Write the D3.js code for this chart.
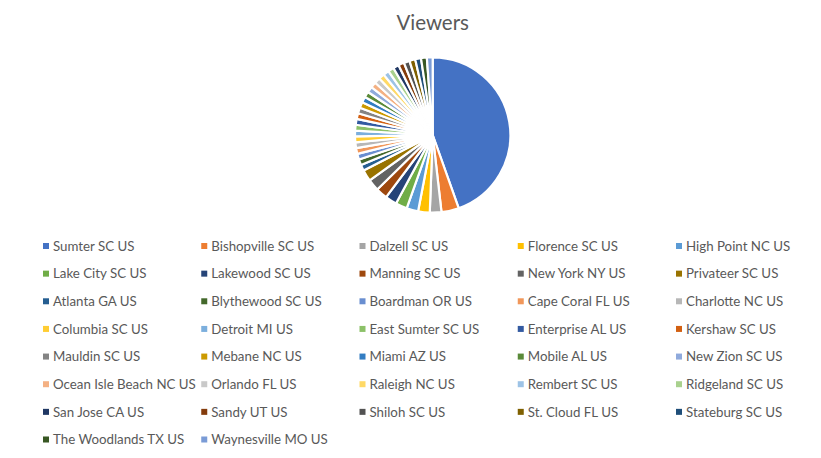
<!DOCTYPE html>
<html>
<head>
<meta charset="utf-8">
<script src="https://cdn.jsdelivr.net/npm/d3@7"></script>
<style>
  body { margin: 0; background: #fff; }
  svg { display: block; }
</style>
</head>
<body>
<div id="chart"></div>
<script>
// viewers per city
var cities = ["Sumter SC US", "Bishopville SC US", "Dalzell SC US", "Florence SC US", "High Point NC US",
  "Lake City SC US", "Lakewood SC US", "Manning SC US", "New York NY US", "Privateer SC US",
  "Atlanta GA US", "Blythewood SC US", "Boardman OR US", "Cape Coral FL US", "Charlotte NC US",
  "Columbia SC US", "Detroit MI US", "East Sumter SC US", "Enterprise AL US", "Kershaw SC US",
  "Mauldin SC US", "Mebane NC US", "Miami AZ US", "Mobile AL US", "New Zion SC US",
  "Ocean Isle Beach NC US", "Orlando FL US", "Raleigh NC US", "Rembert SC US", "Ridgeland SC US",
  "San Jose CA US", "Sandy UT US", "Shiloh SC US", "St. Cloud FL US", "Stateburg SC US",
  "The Woodlands TX US", "Waynesville MO US"];
var viewers = [37, 3, 2, 2, 2, 2, 2, 2, 2, 2,
  1, 1, 1, 1, 1, 1, 1, 1, 1, 1,
  1, 1, 1, 1, 1, 1, 1, 1, 1, 1,
  1, 1, 1, 1, 1, 1, 1];
var palette = ["#4472C4", "#ED7D31", "#A5A5A5", "#FFC000", "#5B9BD5", "#70AD47",
  "#264478", "#9E480E", "#636363", "#997300", "#255E91", "#43682B",
  "#698ED0", "#F1975A", "#B7B7B7", "#FFCD33", "#7CAFDD", "#8CC168",
  "#335AA1", "#D26012", "#848484", "#CC9A00", "#327DC2", "#5A8A39",
  "#8FAADC", "#F4B183", "#C9C9C9", "#FFD966", "#9DC3E6", "#A9D18E",
  "#203864", "#843C0C", "#525252", "#7F6000", "#1F4E79", "#385723",
  "#7A9BD6"];

var width = 821, height = 458;
var cx = 432.7, cy = 135, radius = 77.7;

var data = cities.map(function(c, i) { return { city: c, value: viewers[i], id: i }; });

var svg = d3.select("#chart").append("svg")
  .attr("width", width)
  .attr("height", height);

var color = d3.scaleOrdinal().domain(cities).range(palette);

svg.append("text")
  .attr("x", cx)
  .attr("y", 30)
  .attr("text-anchor", "middle")
  .style("font-family", "Lato, 'Open Sans', sans-serif")
  .style("font-size", "20.5px")
  .style("fill", "#595959")
  .text("Viewers");

var pie = d3.pie().sort(null).value(function(d) { return d.value; });
var arc = d3.arc().innerRadius(0).outerRadius(radius);

var g = svg.append("g").attr("transform", "translate(" + cx + "," + cy + ")");
g.selectAll("path")
  .data(pie(data))
  .enter().append("path")
  .attr("d", arc)
  .attr("fill", function(d) { return color(d.data.city); })
  .attr("stroke", "#fff")
  .attr("stroke-width", 2.2)
  .attr("stroke-linejoin", "round");

// legend, 5 columns
var cols = 5;
var colX = d3.scaleLinear().domain([0, cols - 1]).range([43, 676]);
var rowY = d3.scaleLinear().domain([0, 7]).range([246, 439.5]);

var item = svg.append("g").selectAll("g")
  .data(data)
  .enter().append("g")
  .attr("transform", function(d) {
    return "translate(" + colX(d.id % cols) + "," + rowY(Math.floor(d.id / cols)) + ")";
  });

item.append("rect")
  .attr("x", 0)
  .attr("y", -3)
  .attr("width", 6)
  .attr("height", 6)
  .attr("fill", function(d) { return color(d.city); });

item.append("text")
  .attr("x", 10)
  .attr("y", 0)
  .attr("dy", "0.35em")
  .style("font-family", "Lato, 'Open Sans', sans-serif")
  .style("font-size", "13.3px")
  .style("fill", "#595959")
  .text(function(d) { return d.city; });
</script>
</body>
</html>
